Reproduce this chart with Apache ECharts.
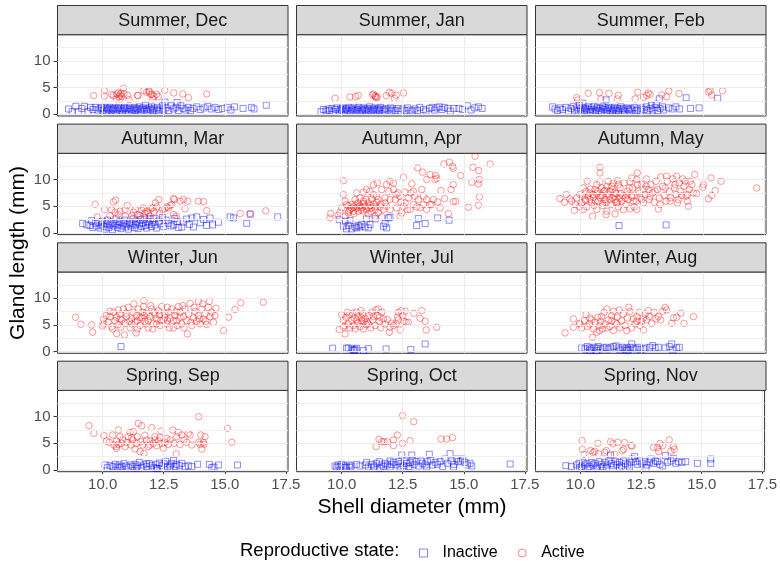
<!DOCTYPE html>
<html><head><meta charset="utf-8">
<script src="https://cdn.jsdelivr.net/npm/echarts@6/dist/echarts.min.js"></script>
<style>html,body{margin:0;padding:0;background:#fff}#c{width:780px;height:561px}</style>
</head><body><div id="c"></div>
<script>
const panelTitles = ['Summer, Dec','Summer, Jan','Summer, Feb','Autumn, Mar','Autumn, Apr','Autumn, May','Winter, Jun','Winter, Jul','Winter, Aug','Spring, Sep','Spring, Oct','Spring, Nov'];
const xTicks = [10, 12.5, 15, 17.5];
const yTicks = [0, 5, 10];
const yGridMajor = [0, 5, 10];
const yGridMinor = [2.5, 7.5, 12.5];
const seriesNames = ['Inactive', 'Active'];
const legendTitle = 'Reproductive state:';
const xTitle = 'Shell diameter (mm)';
const yTitle = 'Gland length (mm)';

const decActive = [[9.63,3.5],[10.07,4.44],[10.07,3.44],[10.37,3.75],[10.44,3.5],[10.57,3.81],[10.64,4.06],[10.71,3.63],[10.75,3.94],[10.78,3.38],[10.85,4.88],[10.87,3.88],[10.57,2.88],[10.71,2.88],[11.08,2.75],[11.02,3.56],[11.42,3.5],[11.45,3.56],[11.69,4.44],[11.8,4.13],[11.9,4.19],[11.97,3.75],[12.02,3.75],[12.05,2.88],[12.1,3.38],[12.21,3.75],[12.28,3.31],[12.54,4.5],[12.91,4.0],[13.28,3.81],[13.51,3.13],[14.26,3.81],[11.9,4.38],[10.67,3.31]];
const decInactive = [[8.6,1.0],[8.75,0.5],[8.9,1.5],[9.0,0.5],[9.15,1.1],[9.25,1.5],[9.4,0.5],[9.5,1.3],[9.6,0.9],[9.7,1.3],[9.8,0.8],[9.9,1.1],[9.95,1.3],[10.0,0.7],[10.05,1.0],[10.1,1.3],[10.15,0.6],[10.2,1.1],[10.25,0.9],[10.3,1.3],[10.35,0.7],[10.4,1.1],[10.45,0.9],[10.5,1.2],[10.55,0.6],[10.6,1.0],[10.65,1.3],[10.7,0.8],[10.75,1.1],[10.8,0.6],[10.85,1.0],[10.9,1.3],[10.95,0.8],[11.0,1.1],[11.05,0.5],[11.1,1.2],[11.15,0.9],[11.2,0.6],[11.25,1.0],[11.3,1.3],[11.35,0.7],[11.4,1.1],[11.45,0.9],[11.5,1.4],[11.55,0.6],[11.6,1.0],[11.65,1.2],[11.7,0.8],[11.75,1.7],[11.8,1.0],[11.85,0.6],[11.9,1.2],[11.95,0.9],[12.0,1.4],[12.05,0.7],[12.1,1.1],[12.2,0.8],[12.25,1.3],[12.3,0.6],[12.35,1.0],[12.45,1.6],[12.5,0.8],[12.55,2.3],[12.6,1.2],[12.7,0.7],[12.8,1.6],[12.9,1.0],[13.0,1.3],[13.05,2.2],[13.1,0.7],[13.2,1.6],[13.3,1.1],[13.4,0.8],[13.5,1.3],[13.6,0.7],[13.7,1.1],[13.85,1.4],[14.0,0.9],[14.15,1.2],[14.3,1.5],[14.45,1.0],[14.6,1.3],[14.75,0.9],[14.9,1.1],[15.1,1.3],[15.25,0.8],[15.4,1.4],[15.75,1.1],[16.1,1.3],[16.2,1.0],[16.7,1.7]];

const janActive = [[9.73,3.0],[10.34,3.25],[10.57,3.31],[10.68,3.56],[11.26,3.63],[11.3,3.81],[11.38,3.31],[11.41,3.13],[11.46,3.25],[11.83,3.5],[11.95,4.13],[12.05,3.94],[12.16,3.0],[12.23,3.56],[12.53,4.0],[11.37,3.5]];
const janInactive = [[9.15,0.5],[9.25,0.9],[9.35,0.6],[9.45,1.0],[9.5,0.7],[9.6,1.1],[9.65,0.5],[9.75,0.9],[9.8,1.2],[9.9,0.6],[9.95,1.0],[10.0,0.8],[10.05,1.2],[10.1,0.5],[10.15,0.9],[10.2,1.1],[10.25,0.7],[10.3,1.3],[10.35,0.5],[10.4,1.0],[10.45,0.8],[10.5,1.2],[10.55,0.6],[10.6,1.0],[10.65,0.8],[10.7,1.3],[10.75,0.5],[10.8,1.0],[10.85,0.7],[10.9,1.2],[10.95,0.9],[11.0,0.6],[11.05,1.1],[11.1,0.8],[11.15,1.4],[11.2,0.6],[11.25,1.0],[11.3,0.8],[11.35,1.2],[11.4,0.6],[11.45,0.9],[11.5,1.1],[11.55,0.7],[11.6,1.3],[11.7,0.9],[11.75,0.6],[11.8,1.1],[11.9,0.8],[12.0,1.2],[12.05,0.6],[12.1,1.0],[12.2,0.7],[12.3,1.1],[12.4,0.6],[12.5,1.0],[12.6,0.7],[12.7,1.2],[12.8,0.8],[12.9,0.6],[13.0,1.0],[13.1,0.7],[13.2,1.3],[13.35,0.9],[13.45,0.6],[13.6,1.1],[13.7,1.3],[13.8,0.8],[13.9,1.2],[14.0,1.4],[14.1,0.9],[14.2,1.3],[14.35,1.1],[14.45,0.6],[14.6,1.1],[14.8,1.1],[14.95,0.9],[15.15,1.6],[15.3,0.8],[15.45,1.2],[15.6,1.4],[15.75,1.1]];

const febActive = [[9.84,3.13],[10.31,3.94],[10.77,4.06],[10.83,2.88],[11.16,3.94],[11.5,2.88],[11.54,3.56],[12.23,2.88],[12.34,4.13],[12.57,3.19],[12.7,3.56],[12.77,4.0],[12.84,3.75],[13.32,3.63],[13.52,3.31],[13.61,4.38],[14.03,3.88],[15.23,4.19],[15.3,4.38],[15.37,3.63],[15.81,4.38],[9.88,2.69]];
const febInactive = [[8.85,1.4],[8.95,1.0],[9.05,0.7],[9.15,1.2],[9.25,0.9],[9.4,1.3],[9.5,0.6],[9.6,1.1],[9.7,1.5],[9.75,0.8],[9.85,1.2],[9.9,0.6],[9.95,1.7],[10.0,1.0],[10.05,0.5],[10.1,1.3],[10.1,2.1],[10.15,0.8],[10.2,1.1],[10.25,0.6],[10.3,1.4],[10.35,0.9],[10.4,0.5],[10.45,1.2],[10.5,0.8],[10.55,1.5],[10.6,0.6],[10.65,1.0],[10.7,1.3],[10.75,0.7],[10.8,1.1],[10.85,0.5],[10.9,1.4],[10.95,0.9],[11.0,1.2],[11.04,2.7],[11.05,0.6],[11.1,1.0],[11.15,1.3],[11.2,0.7],[11.25,1.1],[11.3,0.5],[11.35,0.9],[11.4,1.3],[11.45,0.7],[11.5,1.1],[11.55,0.6],[11.6,1.0],[11.65,1.4],[11.7,0.8],[11.75,1.1],[11.8,0.6],[11.9,1.2],[11.95,0.9],[12.0,0.6],[12.05,1.1],[12.1,0.8],[12.2,1.3],[12.3,0.7],[12.35,1.0],[12.45,0.6],[12.5,1.2],[12.6,0.9],[12.7,1.4],[12.75,0.7],[12.85,1.1],[12.9,1.7],[12.95,0.8],[13.05,1.3],[13.1,1.9],[13.15,0.7],[13.22,2.9],[13.25,1.1],[13.35,1.4],[13.4,0.8],[13.6,1.2],[13.75,1.0],[13.9,1.4],[14.05,1.0],[14.32,3.1],[14.5,1.1],[14.85,1.2],[15.61,3.0]];

const marActive = [[9.69,5.38],[10.07,4.38],[10.44,5.81],[10.53,6.13],[10.37,4.31],[10.51,3.88],[10.71,4.06],[11.01,5.13],[10.93,3.13],[11.33,4.38],[11.42,3.44],[11.6,4.25],[11.73,3.63],[11.87,3.75],[11.97,4.5],[12.05,4.69],[12.1,4.06],[12.16,5.63],[12.21,4.88],[12.3,6.25],[12.35,3.63],[12.46,4.38],[12.55,4.5],[12.62,4.88],[12.69,4.69],[12.76,5.13],[12.83,5.31],[12.9,6.44],[12.94,6.25],[13.01,3.13],[13.17,5.94],[13.31,6.25],[13.37,4.5],[13.48,5.94],[13.92,5.94],[14.13,5.88],[14.26,4.19],[15.63,3.63],[16.04,3.63],[16.68,4.13],[9.78,3.0],[10.3,3.25],[10.64,3.44],[11.19,3.25],[11.53,3.25],[11.91,3.13],[12.9,3.44],[11.8,4.06],[11.26,3.88],[11.67,4.69],[10.92,4.38]];
const marInactive = [[9.18,1.75],[9.35,1.5],[9.48,1.4],[9.55,2.3],[9.6,1.0],[9.7,1.8],[9.75,1.3],[9.85,2.0],[9.9,0.9],[9.95,1.5],[10.0,2.2],[10.05,1.2],[10.1,0.7],[10.15,1.7],[10.2,2.4],[10.25,1.0],[10.3,1.5],[10.35,2.0],[10.4,0.6],[10.45,1.3],[10.5,1.8],[10.55,2.6],[10.6,1.0],[10.65,1.5],[10.7,2.1],[10.75,0.8],[10.8,1.3],[10.85,1.8],[10.9,2.4],[10.95,1.1],[11.0,1.6],[11.05,0.7],[11.1,2.0],[11.15,1.3],[11.2,1.8],[11.25,2.6],[11.3,1.0],[11.35,1.5],[11.4,2.2],[11.45,0.8],[11.5,1.7],[11.55,2.5],[11.6,1.2],[11.65,1.9],[11.7,2.8],[11.75,1.4],[11.8,0.9],[11.85,2.1],[11.9,1.6],[11.95,2.6],[12.0,1.2],[12.05,2.0],[12.1,2.7],[12.15,1.5],[12.2,0.9],[12.3,2.2],[12.35,1.7],[12.45,2.9],[12.5,1.2],[12.6,2.4],[12.7,1.8],[12.8,1.3],[12.9,1.5],[12.95,2.7],[13.05,2.1],[13.1,1.0],[13.24,1.1],[13.3,2.0],[13.44,2.6],[13.55,1.6],[13.65,2.8],[13.72,1.1],[13.85,3.0],[14.0,1.9],[14.13,2.5],[14.26,1.4],[14.4,2.8],[14.5,1.5],[14.74,2.0],[15.22,3.0],[15.36,2.8],[15.9,1.8],[17.17,3.0],[16.04,3.5]];

const aprActive = [[15.46,14.38],[16.08,12.94],[15.37,12.31],[15.61,11.69],[14.19,12.94],[14.41,13.25],[14.54,12.5],[14.57,12.13],[13.11,12.19],[13.32,11.38],[13.62,10.94],[13.85,10.75],[13.89,10.25],[13.48,10.0],[14.88,10.75],[15.33,9.5],[15.63,10.0],[15.6,9.19],[14.57,9.06],[14.48,8.13],[14.07,7.94],[15.64,6.75],[15.6,5.19],[15.19,4.81],[14.37,3.63],[14.67,5.94],[14.57,5.88],[14.21,6.44],[13.93,5.81],[14.03,4.69],[13.69,5.31],[13.48,6.25],[13.35,5.31],[13.28,8.13],[12.87,9.19],[12.53,10.44],[12.83,7.5],[12.6,7.63],[12.43,5.81],[12.39,3.13],[12.69,4.38],[13.0,6.88],[13.07,4.88],[13.14,6.25],[12.12,9.38],[11.98,9.69],[11.84,9.06],[11.93,7.81],[12.12,8.13],[12.23,7.19],[12.32,7.5],[11.98,6.25],[11.78,5.63],[11.71,4.38],[11.57,4.88],[11.43,6.88],[11.46,9.38],[11.3,9.0],[11.16,7.81],[11.23,6.38],[11.09,5.63],[10.96,5.0],[10.89,7.63],[10.75,6.56],[10.68,5.63],[10.61,4.69],[10.55,6.25],[10.41,5.31],[10.34,4.38],[10.2,5.31],[10.07,9.81],[10.07,7.19],[10.14,5.94],[10.0,4.69],[9.93,3.88],[10.14,3.13],[9.55,3.63],[9.52,2.81],[9.86,3.31],[10.27,3.75],[10.48,4.06],[10.68,4.06],[10.82,4.69],[11.02,4.38],[11.23,4.69],[11.37,4.38],[11.5,3.75],[11.64,3.0],[11.37,3.13],[11.09,3.56],[11.78,6.56],[11.64,8.13],[12.19,6.25],[12.53,5.0],[12.6,5.63],[12.8,4.38],[13.35,6.88],[13.62,5.31],[13.76,6.25],[13.48,4.38],[12.94,5.31],[13.21,4.69],[12.73,6.56],[12.39,6.88],[11.43,5.75],[10.89,5.94],[10.61,7.5],[11.02,8.13],[11.3,7.19],[11.5,6.25],[11.16,5.13],[10.75,5.13],[10.48,4.88],[10.27,5.13],[11.98,4.38],[12.25,4.69],[11.84,5.0],[12.46,3.75],[12.94,7.81],[13.82,10.0],[10.4,4.6],[10.6,5.4],[10.8,4.3],[10.9,5.5],[11.1,4.8],[11.3,5.4],[10.5,3.6],[10.7,4.9],[11.0,6.3],[11.2,4.0],[10.3,4.1],[11.4,5.0],[10.9,4.1],[11.6,5.4]];
const aprInactive = [[9.9,2.5],[10.07,1.25],[10.27,1.38],[10.41,0.75],[10.55,1.13],[10.68,1.38],[10.75,1.13],[10.82,1.56],[11.02,2.63],[11.09,0.94],[11.16,1.56],[11.37,2.63],[11.71,1.25],[11.78,1.75],[11.91,2.81],[11.98,2.94],[10.34,2.31],[10.14,2.19],[13.14,2.69],[13.07,1.38],[13.42,1.75],[13.93,2.81],[14.4,2.38],[10.2,0.75],[10.61,0.94],[10.96,1.13],[11.84,0.94]];

const mayActive = [[9.63,5.94],[9.84,6.56],[9.97,7.19],[10.04,5.63],[10.11,8.44],[10.18,6.25],[10.25,4.88],[10.27,9.69],[10.36,7.5],[10.45,5.63],[10.52,6.69],[10.59,8.13],[10.66,9.06],[10.72,5.94],[10.79,9.56],[10.82,7.0],[10.9,5.13],[10.96,7.81],[11.0,6.25],[11.07,8.75],[11.13,9.69],[11.17,6.88],[11.23,5.31],[11.31,8.13],[11.34,9.38],[11.41,6.25],[11.45,7.38],[11.5,9.81],[11.54,4.88],[11.61,8.44],[11.68,5.94],[11.72,7.0],[11.78,9.38],[11.86,5.31],[11.91,7.81],[11.95,6.25],[12.02,9.56],[12.09,7.0],[12.13,8.44],[12.19,4.88],[12.27,5.94],[12.3,10.0],[12.36,7.81],[12.43,6.56],[12.5,9.06],[12.57,5.63],[12.64,7.19],[12.7,10.13],[12.77,8.13],[12.81,6.25],[12.87,9.06],[12.95,7.5],[13.01,5.75],[13.09,9.69],[13.14,8.13],[13.22,6.56],[13.28,10.5],[13.36,8.75],[13.42,7.0],[13.5,5.94],[13.55,9.69],[13.63,7.81],[13.69,6.56],[13.77,10.13],[13.83,8.44],[13.91,7.19],[13.96,5.63],[14.04,9.38],[14.1,7.81],[14.18,10.13],[14.23,8.75],[14.32,6.88],[14.37,5.94],[14.45,8.13],[14.55,9.06],[14.62,7.5],[9.56,6.38],[9.77,5.31],[9.95,4.88],[10.08,6.88],[10.22,7.81],[10.38,6.25],[10.55,5.13],[10.66,7.38],[10.86,8.44],[11.04,5.63],[11.2,7.81],[11.37,6.88],[11.48,5.63],[11.64,7.38],[11.82,6.56],[11.99,8.44],[12.16,5.94],[12.32,9.06],[12.5,6.25],[12.68,8.75],[12.84,6.88],[13.05,7.81],[13.25,5.31],[13.46,8.44],[13.66,5.94],[13.87,9.06],[14.0,6.25],[14.14,7.0],[14.28,9.69],[14.41,5.0],[12.02,4.5],[11.75,4.38],[11.07,4.06],[10.66,4.38],[10.11,4.38],[12.3,4.38],[11.27,8.75],[11.54,9.06],[12.09,10.31],[13.52,10.63],[13.93,10.63],[10.3,6.9],[10.5,7.2],[10.6,6.0],[10.8,6.6],[10.9,7.0],[11.1,7.3],[11.2,6.2],[11.3,6.6],[11.4,7.6],[11.6,6.5],[10.7,7.8],[11.0,8.0],[10.4,8.2],[11.9,7.1],[12.1,6.7],[12.4,7.4],[12.6,8.2],[11.5,5.8],[10.2,6.1],[10.9,5.5],[10.79,12.31],[10.79,11.25],[12.32,11.25],[17.21,8.44],[15.75,9.69],[15.34,10.31],[14.67,10.94],[13.18,4.5],[11.04,3.44],[10.49,3.13],[9.74,4.25],[9.15,6.44],[9.33,5.75],[9.42,7.19],[11.41,3.56],[15.51,7.94],[15.37,7.0],[15.23,6.38],[15.03,9.06],[15.0,8.56],[14.75,7.38],[14.38,7.19],[14.48,9.69]];
const mayInactive = [[11.57,1.38],[13.5,1.5]];

const junActive = [[10.03,6.13],[10.14,6.75],[10.23,5.5],[10.3,6.56],[10.37,4.69],[10.44,7.38],[10.51,5.81],[10.57,6.44],[10.64,5.06],[10.71,7.06],[10.78,5.94],[10.85,8.0],[10.92,5.31],[10.98,6.56],[11.05,8.31],[11.12,4.44],[11.19,6.13],[11.26,7.38],[11.33,5.5],[11.39,6.75],[11.46,8.0],[11.53,4.88],[11.6,6.31],[11.67,8.44],[11.73,5.69],[11.8,7.19],[11.87,4.44],[11.94,6.56],[12.01,8.0],[12.08,5.31],[12.14,6.94],[12.21,6.13],[12.28,7.69],[12.35,4.88],[12.42,8.44],[12.49,5.94],[12.55,7.06],[12.62,5.19],[12.69,7.38],[12.76,6.31],[12.83,8.0],[12.9,4.44],[12.96,6.75],[13.03,5.81],[13.1,8.44],[13.17,7.38],[13.24,5.19],[13.31,6.56],[13.37,8.0],[13.44,5.81],[13.51,7.06],[13.58,9.06],[13.65,4.88],[13.72,6.31],[13.78,7.56],[13.85,5.69],[13.92,6.75],[13.99,5.19],[14.06,8.0],[14.13,6.13],[14.19,7.06],[14.26,5.06],[14.33,8.31],[14.4,6.56],[14.47,7.38],[14.54,5.5],[14.6,6.75],[10.05,5.19],[10.41,4.25],[10.74,4.56],[11.09,5.69],[11.42,4.25],[11.78,5.19],[12.05,4.25],[12.38,5.81],[12.73,4.44],[13.06,4.88],[13.33,4.44],[13.61,5.5],[13.96,6.13],[14.23,5.69],[10.3,7.56],[10.64,7.81],[10.96,7.19],[11.28,8.94],[11.64,7.38],[11.97,8.63],[12.32,6.94],[12.65,8.31],[13.01,7.56],[13.28,8.63],[13.74,8.31],[14.1,8.94],[11.53,6.44],[11.87,5.81],[12.21,5.19],[12.55,6.44],[12.9,5.81],[10.71,6.13],[11.19,5.19],[13.17,6.44],[12.1,7.38],[11.69,6.75],[11.42,5.81],[12.65,5.81],[8.89,6.44],[9.11,5.13],[9.55,5.0],[9.59,3.63],[9.99,4.81],[10.57,3.38],[10.89,3.13],[11.37,3.5],[11.69,9.56],[13.47,3.31],[14.95,3.94],[15.16,6.44],[15.42,7.88],[15.66,9.13],[16.58,9.25],[14.37,9.44],[13.92,9.38],[14.64,8.13]];
const junInactive = [[10.75,0.94]];

const julActive = [[9.9,4.13],[10.0,6.94],[10.07,5.81],[10.11,4.88],[10.14,3.31],[10.18,6.44],[10.23,7.38],[10.27,5.19],[10.34,4.44],[10.41,5.81],[10.45,7.19],[10.51,6.31],[10.55,4.25],[10.61,7.38],[10.66,5.31],[10.68,6.56],[10.75,4.69],[10.79,7.69],[10.82,5.81],[10.86,7.06],[10.89,4.25],[10.96,6.25],[11.0,5.06],[11.05,5.5],[11.13,6.75],[11.19,4.44],[11.23,7.38],[11.27,5.94],[11.37,4.88],[11.41,7.81],[11.46,6.75],[11.5,8.0],[11.54,5.69],[11.6,4.44],[11.64,7.38],[11.71,6.13],[11.78,5.19],[11.87,6.0],[11.95,3.63],[11.98,4.56],[12.05,5.31],[12.12,4.88],[12.23,5.19],[12.28,6.44],[12.32,5.94],[12.39,4.06],[12.43,7.69],[12.5,6.75],[12.55,5.69],[12.6,7.56],[12.64,5.5],[12.73,5.5],[12.96,7.19],[13.21,6.25],[13.28,7.69],[13.42,5.69],[13.46,4.06],[13.89,4.56],[10.07,4.56],[10.48,4.88],[10.82,6.31],[11.09,5.19],[11.3,6.56],[11.57,6.44],[10.92,5.69],[10.61,5.94],[12.32,7.38],[10.31,6.94]];
const julInactive = [[9.63,0.63],[10.2,0.63],[10.27,0.69],[10.48,0.31],[10.55,0.44],[10.61,0.63],[10.89,0.19],[11.09,0.56],[11.82,0.5],[12.83,0.38],[13.42,1.44],[10.41,0.5],[10.52,0.2]];

const augActive = [[9.36,3.5],[9.7,6.13],[9.7,4.56],[9.95,5.31],[10.04,4.44],[10.14,5.81],[10.22,6.94],[10.27,4.69],[10.36,5.19],[10.45,5.94],[10.52,4.25],[10.59,5.5],[10.66,3.63],[10.7,6.44],[10.77,4.88],[10.82,5.69],[10.9,4.25],[10.96,7.38],[11.0,5.19],[11.07,8.0],[11.13,5.94],[11.2,4.69],[11.27,6.75],[11.34,7.56],[11.41,5.5],[11.5,6.44],[11.58,7.81],[11.61,4.44],[11.68,5.81],[11.75,7.06],[11.82,4.88],[11.91,6.31],[11.97,8.31],[12.02,7.56],[12.09,4.44],[12.16,6.13],[12.23,5.19],[12.3,6.56],[12.4,7.38],[12.43,4.88],[12.5,5.69],[12.57,6.31],[12.64,7.06],[12.7,5.94],[12.77,7.69],[12.81,6.56],[12.91,5.31],[13.01,7.38],[13.09,6.13],[13.18,6.56],[13.28,5.94],[13.36,7.56],[13.46,8.31],[13.52,7.81],[13.73,5.31],[13.8,6.31],[13.93,6.44],[14.1,7.19],[14.23,5.31],[14.62,6.56],[10.49,2.69],[10.77,3.94],[11.34,3.94],[11.89,3.94],[12.57,4.06],[10.86,6.56],[11.48,5.19],[12.3,5.69],[11.07,4.44],[9.97,5.19],[11.27,5.81],[10.38,6.31]];
const augInactive = [[10.04,0.69],[10.18,0.5],[10.27,0.94],[10.36,0.69],[10.45,0.5],[10.55,0.81],[10.66,0.63],[10.72,0.94],[10.82,0.5],[10.93,0.69],[11.04,0.81],[11.13,0.5],[11.23,0.69],[11.34,0.94],[11.45,1.06],[11.54,0.69],[11.61,0.31],[11.72,0.81],[11.82,0.5],[11.89,0.69],[11.95,0.31],[12.02,0.81],[12.09,1.44],[12.16,0.69],[12.27,0.5],[12.36,0.81],[12.46,0.44],[12.57,0.5],[12.64,0.69],[12.84,0.81],[12.95,1.13],[13.05,0.69],[13.18,0.81],[13.46,0.69],[13.63,0.94],[13.73,1.44],[13.77,0.31],[13.93,0.69],[14.04,0.81],[10.38,0.19],[10.66,0.19],[11.89,0.19]];

const sepActive = [[9.44,8.31],[9.64,6.88],[10.05,6.44],[10.16,5.44],[10.27,5.19],[10.41,6.56],[10.46,4.69],[10.55,4.38],[10.57,4.06],[10.64,4.81],[10.64,7.5],[10.71,6.25],[10.82,5.63],[10.92,4.38],[10.98,5.19],[11.05,6.25],[11.12,7.06],[11.15,4.69],[11.23,5.63],[11.26,7.19],[11.33,3.94],[11.39,5.0],[11.42,6.25],[11.46,8.75],[11.53,3.44],[11.56,5.31],[11.6,8.31],[11.64,4.69],[11.69,3.13],[11.73,6.5],[11.8,5.63],[11.87,4.38],[11.94,5.44],[12.01,7.94],[12.08,5.0],[12.14,6.25],[12.21,4.56],[12.28,5.44],[12.35,6.06],[12.39,7.31],[12.42,5.0],[12.49,4.06],[12.55,5.19],[12.62,5.94],[12.69,4.81],[12.76,5.63],[12.87,7.5],[12.92,5.0],[13.01,3.0],[13.03,6.25],[13.1,7.06],[13.17,4.81],[13.24,6.56],[13.33,5.63],[13.44,5.19],[13.51,6.88],[13.58,6.56],[13.65,4.69],[13.93,10.0],[13.93,5.19],[13.99,4.81],[14.02,6.56],[14.06,3.94],[14.13,5.19],[14.19,6.25],[14.15,4.81],[15.11,7.81],[15.29,5.19],[11.19,6.06],[12.14,5.63],[10.57,5.44],[10.78,5.0],[11.94,4.69]];
const sepInactive = [[10.1,0.94],[10.19,0.44],[10.3,0.81],[10.41,0.63],[10.51,1.06],[10.6,0.56],[10.68,0.94],[10.78,0.63],[10.87,1.19],[10.96,0.75],[11.05,0.44],[11.15,0.94],[11.23,0.63],[11.33,1.06],[11.42,0.75],[11.5,1.44],[11.6,0.5],[11.69,0.94],[11.8,0.63],[11.91,1.19],[12.01,0.81],[12.1,0.44],[12.19,1.06],[12.24,0.25],[12.32,1.31],[12.42,0.81],[12.51,1.19],[12.58,1.63],[12.66,0.63],[12.76,0.94],[12.83,1.25],[12.9,1.81],[12.96,0.63],[13.03,1.06],[13.14,0.81],[13.24,1.25],[13.37,0.63],[13.51,0.81],[13.65,0.63],[13.89,1.06],[14.37,1.06],[14.47,0.44],[14.56,0.56],[14.74,0.94],[15.52,0.94],[10.71,0.44],[11.39,0.31],[11.8,1.19],[12.21,0.31],[12.76,0.44]];

const octActive = [[12.49,10.19],[12.95,9.06],[12.28,6.56],[11.53,5.75],[11.64,5.31],[11.41,4.38],[11.87,5.31],[12.12,5.63],[12.12,4.56],[12.49,5.0],[12.8,5.5],[14.07,5.81],[14.3,5.81],[14.54,6.06],[11.73,5.31]];
const octInactive = [[9.73,0.75],[9.86,0.94],[9.93,0.63],[10.0,1.06],[10.1,0.81],[10.2,0.56],[10.31,0.94],[10.41,0.75],[10.61,1.06],[10.75,0.75],[10.96,0.94],[11.09,0.56],[11.23,1.06],[11.33,0.75],[11.43,1.25],[11.54,1.56],[11.64,0.94],[11.71,0.63],[11.78,1.25],[11.87,0.94],[11.98,1.69],[12.05,1.06],[12.12,1.44],[12.23,0.94],[12.32,1.56],[12.42,1.25],[12.46,2.81],[12.53,0.81],[12.6,1.69],[12.66,1.25],[12.73,0.63],[12.8,1.44],[12.87,2.81],[12.91,1.88],[12.96,1.06],[13.05,1.56],[13.14,0.75],[13.24,1.69],[13.32,1.25],[13.42,0.94],[13.51,1.56],[13.59,2.94],[13.65,1.88],[13.73,0.94],[13.83,1.44],[13.92,1.06],[14.03,1.56],[14.14,0.63],[14.23,2.06],[14.33,1.25],[14.44,3.06],[14.51,1.69],[14.6,1.06],[14.71,2.06],[14.78,1.56],[14.88,1.69],[14.96,2.06],[15.05,1.44],[15.15,0.94],[15.26,1.25],[15.33,0.75],[16.9,1.13],[9.8,0.5],[10.14,0.44],[10.34,0.5],[11.3,0.5],[12.39,0.56],[13.48,0.56],[14.58,0.56],[11.98,0.56],[11.02,1.44],[11.57,0.31],[12.8,0.31]];

const novActive = [[10.07,5.5],[10.08,3.88],[10.14,2.94],[10.42,3.63],[10.52,3.31],[10.59,3.5],[10.72,5.0],[10.75,3.06],[11.0,3.31],[11.07,3.63],[11.24,5.31],[11.34,4.94],[11.41,2.94],[11.54,5.19],[11.72,3.63],[11.82,5.13],[12.09,4.56],[12.13,4.5],[11.78,3.88],[13.01,4.25],[13.18,4.19],[13.28,4.94],[13.39,4.56],[13.23,3.44],[13.66,5.63],[13.73,3.56],[13.83,4.38],[13.87,3.88]];
const novInactive = [[9.4,0.81],[9.63,0.63],[9.84,0.94],[9.95,1.25],[10.04,0.63],[10.11,1.44],[10.18,0.94],[10.27,1.19],[10.36,0.63],[10.45,1.44],[10.52,0.94],[10.6,1.25],[10.7,0.75],[10.77,1.56],[10.86,1.06],[10.93,0.63],[11.01,1.38],[11.09,0.94],[11.17,1.69],[11.24,2.81],[11.28,1.19],[11.37,0.81],[11.45,1.56],[11.5,1.06],[11.61,1.44],[11.69,0.75],[11.78,1.69],[11.86,1.19],[11.95,0.94],[12.05,1.44],[12.13,2.06],[12.23,2.5],[12.27,1.56],[12.36,1.06],[12.43,1.69],[12.54,1.25],[12.64,1.56],[12.73,0.94],[12.84,1.44],[12.91,2.06],[13.01,1.25],[13.09,1.69],[13.18,1.56],[13.28,1.06],[13.39,0.75],[13.5,2.69],[13.59,1.44],[13.73,1.69],[13.83,2.19],[13.93,1.25],[14.04,1.56],[14.18,1.44],[14.34,1.56],[14.82,1.25],[15.37,2.06],[15.37,1.25],[9.97,0.44],[10.31,0.31],[10.66,0.31],[11.07,0.44],[11.61,0.44],[12.02,0.56],[12.7,0.44]];

const inactiveByPanel = [decInactive, janInactive, febInactive, marInactive, aprInactive, mayInactive, junInactive, julInactive, augInactive, sepInactive, octInactive, novInactive];
const activeByPanel = [decActive, janActive, febActive, marActive, aprActive, mayActive, junActive, julActive, augActive, sepActive, octActive, novActive];

// layout
const FONT = '"Liberation Sans", Arial, sans-serif';
const colLeft = [57.5, 296.5, 535.5];
const panelW = 230.5;
const rowTop = [34.7, 153.3, 272, 390.4];
const panelH = 81.3;
const stripH = 29.2;
const X_MIN = 8.15, X_MAX = 17.59, Y_MIN = -0.32, Y_MAX = 14.93;
const BLUE = 'rgba(0,0,255,0.56)';
const RED = 'rgba(255,0,0,0.5)';

const grids = [], xAxes = [], yAxes = [], series = [], graphics = [];
for (let i = 0; i < 12; i++) {
  const r = Math.floor(i / 3), c = i % 3;
  const isBottom = r === 3, isLeft = c === 0;
  grids.push({left: colLeft[c], top: rowTop[r], width: panelW, height: panelH, show: true, borderColor: '#333333', borderWidth: 1, backgroundColor: '#ffffff', containLabel: false});
  xAxes.push({type: 'value', gridIndex: i, min: X_MIN, max: X_MAX,
    axisLine: {show: false}, splitLine: {show: false},
    axisTick: {show: isBottom, length: 4, lineStyle: {color: '#333333'}, customValues: xTicks},
    axisLabel: {show: isBottom, customValues: xTicks, formatter: v => Number(v).toFixed(1), color: '#4D4D4D', fontSize: 15, fontFamily: FONT, margin: 6}});
  yAxes.push({type: 'value', gridIndex: i, min: Y_MIN, max: Y_MAX,
    axisLine: {show: false}, splitLine: {show: false},
    axisTick: {show: isLeft, length: 4, lineStyle: {color: '#333333'}, customValues: yTicks},
    axisLabel: {show: isLeft, customValues: yTicks, color: '#4D4D4D', fontSize: 15, fontFamily: FONT, margin: 7}});
  const mlData = [];
  xTicks.forEach(v => mlData.push({xAxis: v, lineStyle: {color: '#EBEBEB', width: 1, type: 'solid'}}));
  yGridMajor.forEach(v => mlData.push({yAxis: v, lineStyle: {color: '#EBEBEB', width: 1, type: 'solid'}}));
  yGridMinor.forEach(v => mlData.push({yAxis: v, lineStyle: {color: '#EFEFEF', width: 1, type: 'solid'}}));
  series.push({type: 'scatter', name: 'grid' + i, xAxisIndex: i, yAxisIndex: i, data: [], silent: true, z: 1,
    markLine: {silent: true, symbol: ['none', 'none'], label: {show: false}, animation: false,
      lineStyle: {type: 'solid', color: '#EBEBEB', width: 1}, emphasis: {disabled: true}, data: mlData}});
  series.push({type: 'scatter', name: seriesNames[0], xAxisIndex: i, yAxisIndex: i, data: inactiveByPanel[i], symbol: 'rect', symbolSize: 6, z: 3, silent: true,
    itemStyle: {color: 'rgba(0,0,0,0)', borderColor: BLUE, borderWidth: 1}});
  series.push({type: 'scatter', name: seriesNames[1], xAxisIndex: i, yAxisIndex: i, data: activeByPanel[i], symbol: 'circle', symbolSize: 6.5, z: 4, silent: true,
    itemStyle: {color: 'rgba(0,0,0,0)', borderColor: RED, borderWidth: 1}});
  // strip
  graphics.push({type: 'rect', shape: {x: colLeft[c], y: rowTop[r] - stripH, width: panelW, height: stripH}, style: {fill: '#D9D9D9', stroke: '#333333', lineWidth: 1}, z: 10});
  graphics.push({type: 'text', x: colLeft[c] + panelW / 2, y: rowTop[r] - stripH / 2 + 0.5, style: {text: panelTitles[i], fontSize: 18, fontFamily: FONT, fill: '#1A1A1A', align: 'center', verticalAlign: 'middle'}, z: 11});
}
graphics.push({type: 'text', x: 412, y: 507, style: {text: xTitle, fontSize: 21, fontFamily: FONT, fill: '#000000', align: 'center', verticalAlign: 'middle'}});
graphics.push({type: 'text', x: 18, y: 253, rotation: Math.PI / 2, style: {text: yTitle, fontSize: 21, fontFamily: FONT, fill: '#000000', align: 'center', verticalAlign: 'middle'}});
graphics.push({type: 'text', x: 240, y: 551, style: {text: legendTitle, fontSize: 18.5, fontFamily: FONT, fill: '#000000', align: 'left', verticalAlign: 'middle'}});

const chart = echarts.init(document.getElementById('c'), null, {renderer: 'canvas'});
chart.setOption({
  animation: false,
  backgroundColor: '#ffffff',
  grid: grids, xAxis: xAxes, yAxis: yAxes, series: series,
  graphic: graphics,
  legend: {left: 419, top: 545, padding: 0, orient: 'horizontal', itemWidth: 8, itemHeight: 8, itemGap: 20, selectedMode: false,
    textStyle: {fontSize: 16, fontFamily: FONT, color: '#000000', padding: [0, 0, 0, 10]},
    data: [
      {name: seriesNames[0], icon: 'rect', itemStyle: {color: 'rgba(0,0,0,0)', borderColor: 'rgba(0,0,255,0.6)', borderWidth: 1}},
      {name: seriesNames[1], icon: 'circle', itemStyle: {color: 'rgba(0,0,0,0)', borderColor: 'rgba(255,0,0,0.6)', borderWidth: 1}}
    ]}
});
</script></body></html>
